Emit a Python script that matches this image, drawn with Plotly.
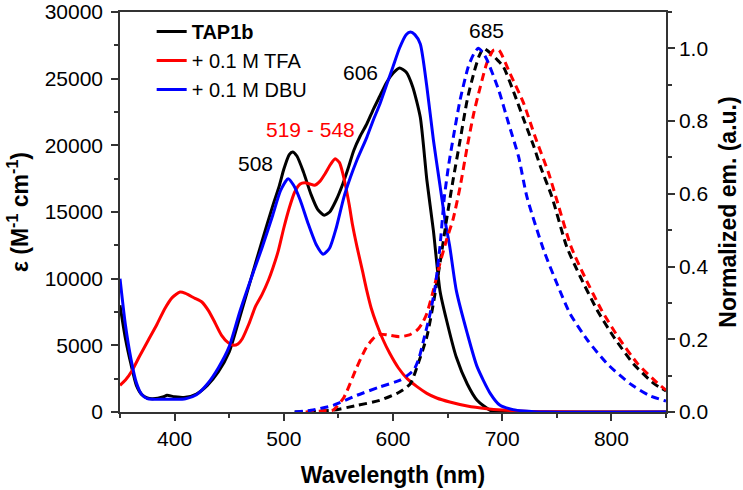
import plotly.graph_objects as go

# ---------------- absorption (left axis, epsilon) ----------------
wl_tap = [350, 355, 360, 365, 370, 375, 380, 390, 393, 400, 410, 420, 430, 440, 450, 460, 470, 480,
          490, 496, 500, 505, 508, 512, 518, 525, 531, 537, 542, 548, 554, 559, 564, 570, 576, 582,
          588, 594, 600, 606, 612, 618, 625, 631, 637, 643, 649, 658, 668, 677, 689, 700, 720, 850]
eps_tap = [8000, 5500, 3600, 2000, 1300, 1050, 1000, 1150, 1250, 1150, 1100, 1350, 2000, 3000, 4500,
           7200, 10000, 12800, 15500, 17000, 18200, 19300, 19500, 19200, 18000, 16300, 15200, 14750,
           15000, 15900, 17100, 18300, 19600, 20700, 21600, 22700, 23700, 24700, 25400, 25800, 25500,
           24400, 22100, 17400, 13600, 9100, 6900, 4100, 2100, 880, 130, 30, 0, 0]

wl_tfa = [350, 355, 361, 368, 376, 384, 391, 398, 405, 410, 418, 425, 431, 437, 443, 449, 454, 458,
          462, 468, 474, 480, 486, 490, 495, 500, 505, 510, 515, 519, 524, 528, 533, 538, 543, 547,
          551, 554, 557, 560, 563, 567, 572, 576, 580, 585, 591, 597, 605, 613, 622, 631, 640, 652,
          668, 686, 700, 720, 750, 800, 850]
eps_tfa = [2000, 2400, 3100, 4200, 5400, 6600, 7750, 8600, 9000, 8900, 8550, 8250, 7600, 6700, 5750,
           5200, 5000, 5100, 5500, 6600, 7900, 8800, 9900, 10800, 12100, 13800, 15300, 16500, 17100,
           17200, 17100, 17000, 17300, 17900, 18600, 19000, 18700, 17900, 16800, 15500, 14000, 12400,
           10600, 9100, 7800, 6600, 5400, 4400, 3300, 2500, 1900, 1400, 1050, 750, 450, 250, 150, 60,
           20, 0, 0]

wl_dbu = [350, 355, 360, 365, 370, 375, 380, 390, 400, 410, 420, 430, 440, 450, 460, 470, 480, 490,
          497, 504, 509, 515, 522, 530, 536, 542, 548, 555, 561, 567, 576, 582, 588, 594, 600, 606,
          612, 616, 620, 625, 631, 637, 643, 648, 652, 658, 668, 677, 689, 698, 710, 720, 740, 850]
eps_dbu = [10000, 6500, 4000, 2200, 1300, 1000, 950, 950, 950, 1000, 1300, 2100, 3300, 4900, 7600,
           10000, 12300, 14800, 16600, 17500, 17000, 15900, 14200, 12500, 11830, 12300, 13800, 16100,
           17600, 18900, 20600, 21900, 23100, 24500, 25900, 27300, 28300, 28500, 28300, 27600, 24400,
           20400, 17000, 14200, 12400, 9100, 5900, 3400, 1400, 500, 180, 80, 0, 0]

# ---------------- emission (right axis, normalized) ----------------
wl_em_tap = [510, 530, 545, 567, 588, 606, 616, 622, 631, 637, 643, 649, 655, 661.5, 668, 674, 679,
             683, 690, 695, 701, 712, 721, 729, 735, 745.5, 759, 771.5, 787, 802, 820, 839, 850]
em_tap = [0, 0.002, 0.005, 0.018, 0.032, 0.055, 0.078, 0.124, 0.207, 0.299, 0.409, 0.528, 0.638,
          0.748, 0.859, 0.932, 0.98, 1.0, 0.985, 0.97, 0.95, 0.868, 0.794, 0.73, 0.675, 0.592, 0.455,
          0.372, 0.28, 0.207, 0.133, 0.078, 0.058]

wl_em_tfa = [520, 535, 545, 555, 567, 576, 583, 588, 595, 606, 615, 622, 627, 631, 637, 643, 649,
             655, 661.5, 668, 674, 680, 686, 692, 697, 707, 719.5, 730, 742.5, 750, 763, 775.5, 791,
             806, 824, 842, 850]
em_tfa = [0, 0.003, 0.005, 0.04, 0.124, 0.18, 0.205, 0.214, 0.212, 0.207, 0.212, 0.225, 0.245,
          0.271, 0.335, 0.409, 0.473, 0.53, 0.62, 0.73, 0.822, 0.895, 0.96, 0.995, 0.995, 0.932,
          0.85, 0.758, 0.657, 0.583, 0.455, 0.372, 0.28, 0.207, 0.133, 0.08, 0.06]

wl_em_dbu = [510, 525, 545, 567, 588, 606, 613, 619, 624, 628, 634, 638.6, 643, 647, 651, 655.4,
             661.5, 669, 674, 678, 682, 686, 696.7, 705.8, 715, 722.6, 738, 750, 762, 778, 796, 817,
             835, 850]
em_dbu = [0, 0.005, 0.018, 0.046, 0.069, 0.087, 0.1, 0.115, 0.15, 0.197, 0.271, 0.344, 0.455, 0.59,
          0.68, 0.758, 0.859, 0.95, 0.985, 1.0, 0.99, 0.969, 0.886, 0.794, 0.702, 0.592, 0.445, 0.354,
          0.271, 0.198, 0.133, 0.078, 0.045, 0.03]

names = ["<b>TAP1b</b>", "+ 0.1 M TFA", "+ 0.1 M DBU"]
colors = ["#000000", "#ff0000", "#0000ff"]

peak_labels = ["508", "519 - 548", "606", "685"]
peak_x = [474, 524.5, 570.6, 686]
peak_y = [18650, 21200, 25500, 28590]
peak_colors = ["#000000", "#ff0000", "#000000", "#000000"]

FONT = "Liberation Sans, Arial, Helvetica, sans-serif"

fig = go.Figure()

abs_sets = [(wl_tap, eps_tap), (wl_tfa, eps_tfa), (wl_dbu, eps_dbu)]
for i, (wx, wy) in enumerate(abs_sets):
    fig.add_trace(go.Scatter(x=wx, y=wy, mode="lines", name=names[i], legendgroup=f"g{i}",
                             line=dict(color=colors[i], width=3, shape="spline", smoothing=0.6)))

em_sets = [(wl_em_tap, em_tap), (wl_em_tfa, em_tfa), (wl_em_dbu, em_dbu)]
for i, (wx, wy) in enumerate(em_sets):
    fig.add_trace(go.Scatter(x=wx, y=wy, mode="lines", yaxis="y2", showlegend=False,
                             line=dict(color=colors[i], width=3, dash="8px,5px",
                                       shape="spline", smoothing=0.6)))

for t, x, y, c in zip(peak_labels, peak_x, peak_y, peak_colors):
    fig.add_annotation(x=x, y=y, xref="x", yref="y", text=t, showarrow=False,
                       font=dict(size=21, color=c, family=FONT))

axcol = "#333333"
fig.update_layout(
    template="none",
    width=743, height=490,
    margin=dict(l=120, r=77, t=12, b=78, autoexpand=False),
    paper_bgcolor="white", plot_bgcolor="white",
    font=dict(family=FONT, color="#000000"),
    legend=dict(x=0.058, y=1.0, xanchor="left", yanchor="top", bgcolor="rgba(0,0,0,0)",
                font=dict(size=20, family=FONT), tracegroupgap=0),
    xaxis=dict(range=[350, 850], dtick=100, showgrid=False, zeroline=False, automargin=False,
               showline=True, linecolor=axcol, linewidth=1.5, mirror=True,
               ticks="outside", ticklen=7, tickwidth=1.5, tickcolor=axcol,
               minor=dict(ticks="outside", ticklen=4, dtick=50, tickcolor=axcol, tickwidth=1.5),
               tickfont=dict(size=21),
               title=dict(text="<b>Wavelength (nm)</b>", font=dict(size=23), standoff=18)),
    yaxis=dict(range=[0, 30000], dtick=5000, tickformat="d", showgrid=False, zeroline=False,
               automargin=False, ticklabeloverflow="allow",
               showline=True, linecolor=axcol, linewidth=1.5,
               ticks="outside", ticklen=7, tickwidth=1.5, tickcolor=axcol,
               minor=dict(ticks="outside", ticklen=4, dtick=2500, tickcolor=axcol, tickwidth=1.5),
               tickfont=dict(size=21), ticklabelstandoff=4,
               title=dict(text="<b>ε (M<sup>-1</sup> cm<sup>-1</sup>)</b>", font=dict(size=23),
                          standoff=10)),
    yaxis2=dict(range=[0, 1.1], dtick=0.2, tickformat=".1f", overlaying="y", side="right",
                showgrid=False, zeroline=False, automargin=False,
                showline=True, linecolor=axcol, linewidth=1.5,
                ticks="outside", ticklen=7, tickwidth=1.5, tickcolor=axcol,
                minor=dict(ticks="outside", ticklen=4, dtick=0.1, tickcolor=axcol, tickwidth=1.5),
                tickfont=dict(size=21),
                title=dict(text="<b>Normalized em. (a.u.)</b>", font=dict(size=23), standoff=12)),
)

# remove the default 8px page margin so the figure fills the window exactly
fig.write_html("out.html", config={"displayModeBar": False},
               post_script="document.body.style.margin='0';")
